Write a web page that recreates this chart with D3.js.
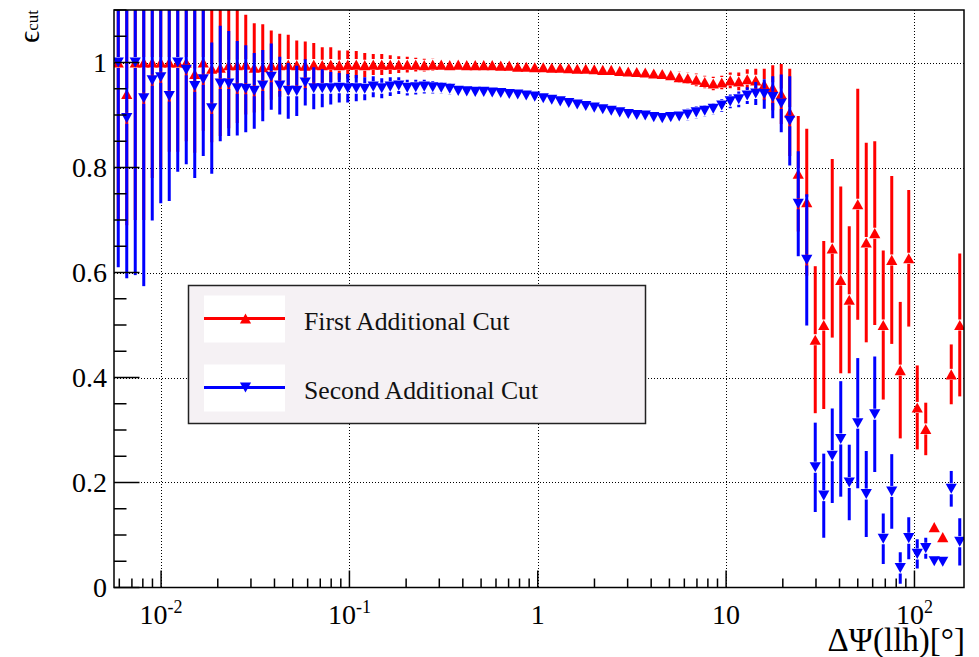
<!DOCTYPE html>
<html>
<head>
<meta charset="utf-8">
<script src="https://cdn.jsdelivr.net/npm/d3@7"></script>
<style>
  html, body { margin: 0; padding: 0; background: #fff; }
  svg { display: block; }
</style>
</head>
<body>
<svg id="chart" width="979" height="657"></svg>
<script>
// Log-uniform binning of the ΔΨ(llh) axis
const N_BINS = 100;
const LOG_MIN = -2.25;
const LOG_MAX = 2.263;

// Cut efficiency per bin and its uncertainty
const firstEff = [
  1.0, 0.94, 1.0, 1.0, 1.0, 1.0, 1.0, 1.0, 1.0, 0.978,
  1.0, 0.988, 0.99, 0.995, 0.995, 0.996, 0.99, 0.991, 0.995, 0.995,
  0.996, 0.995, 0.994, 0.996, 0.995, 0.996, 0.995, 0.996, 0.996, 0.995,
  0.996, 0.996, 0.996, 0.996, 0.996, 0.996, 0.995, 0.996, 0.996, 0.995,
  0.996, 0.995, 0.995, 0.995, 0.995, 0.994, 0.994, 0.992, 0.992, 0.991,
  0.991, 0.990, 0.990, 0.989, 0.988, 0.988, 0.987, 0.986, 0.986, 0.984,
  0.983, 0.982, 0.981, 0.979, 0.978, 0.976, 0.972, 0.970, 0.967, 0.963,
  0.960, 0.962, 0.966, 0.964, 0.968, 0.966, 0.958, 0.952, 0.940, 0.905,
  0.788, 0.734, 0.472, 0.500, 0.646, 0.586, 0.548, 0.730, 0.657, 0.675,
  0.500, 0.624, 0.414, 0.627, 0.343, 0.302, 0.115, 0.096, 0.406, 0.500
];
const firstErr = [
  0.30, 0.25, 0.30, 0.30, 0.22, 0.20, 0.17, 0.17, 0.15, 0.15,
  0.13, 0.14, 0.13, 0.12, 0.11, 0.095, 0.085, 0.082, 0.066, 0.060,
  0.057, 0.047, 0.046, 0.041, 0.034, 0.033, 0.028, 0.027, 0.026, 0.023,
  0.020, 0.020, 0.018, 0.016, 0.015, 0.013, 0.012, 0.011, 0.010, 0.010,
  0.009, 0.009, 0.009, 0.008, 0.008, 0.008, 0.008, 0.008, 0.008, 0.008,
  0.008, 0.008, 0.008, 0.008, 0.008, 0.008, 0.008, 0.008, 0.008, 0.009,
  0.009, 0.009, 0.009, 0.010, 0.010, 0.010, 0.011, 0.011, 0.012, 0.012,
  0.013, 0.013, 0.015, 0.017, 0.019, 0.022, 0.030, 0.043, 0.057, 0.083,
  0.110, 0.140, 0.140, 0.160, 0.170, 0.178, 0.140, 0.220, 0.190, 0.175,
  0.142, 0.160, 0.130, 0.130, 0.080, 0.050, 0.0, 0.0, 0.057, 0.136
];
const secondEff = [
  1.0, 0.894, 1.0, 0.932, 0.966, 0.972, 0.936, 1.0, 0.986, 0.955,
  0.968, 0.913, 0.960, 0.960, 0.951, 0.950, 0.946, 0.956, 0.973, 0.956,
  0.946, 0.946, 0.962, 0.951, 0.951, 0.951, 0.952, 0.951, 0.951, 0.950,
  0.954, 0.951, 0.954, 0.956, 0.952, 0.953, 0.954, 0.953, 0.952, 0.950,
  0.946, 0.945, 0.944, 0.944, 0.943, 0.942, 0.940, 0.939, 0.937, 0.935,
  0.932, 0.929, 0.926, 0.923, 0.920, 0.917, 0.914, 0.911, 0.908, 0.905,
  0.902, 0.900, 0.899, 0.896, 0.894, 0.896, 0.897, 0.901, 0.905, 0.908,
  0.912, 0.918, 0.926, 0.930, 0.937, 0.941, 0.940, 0.934, 0.922, 0.889,
  0.731, 0.624, 0.229, 0.175, 0.251, 0.283, 0.200, 0.313, 0.178, 0.330,
  0.093, 0.183, 0.037, 0.094, 0.064, 0.075, 0.050, 0.049, 0.188, 0.087
];
const secondErr = [
  0.39, 0.305, 0.405, 0.358, 0.267, 0.24, 0.20, 0.208, 0.18, 0.175,
  0.146, 0.125, 0.11, 0.10, 0.09, 0.083, 0.072, 0.068, 0.063, 0.055,
  0.053, 0.048, 0.044, 0.040, 0.036, 0.031, 0.028, 0.027, 0.025, 0.022,
  0.020, 0.019, 0.018, 0.016, 0.015, 0.014, 0.013, 0.012, 0.011, 0.011,
  0.010, 0.010, 0.010, 0.010, 0.009, 0.009, 0.009, 0.009, 0.009, 0.008,
  0.008, 0.008, 0.008, 0.008, 0.008, 0.008, 0.008, 0.008, 0.009, 0.009,
  0.009, 0.009, 0.009, 0.010, 0.010, 0.010, 0.010, 0.011, 0.011, 0.011,
  0.011, 0.012, 0.013, 0.015, 0.016, 0.022, 0.028, 0.040, 0.055, 0.085,
  0.100, 0.125, 0.085, 0.080, 0.090, 0.110, 0.072, 0.124, 0.082, 0.110,
  0.048, 0.071, 0.030, 0.040, 0.028, 0.020, 0.0, 0.0, 0.034, 0.045
];

const yMajorTicks = [0, 0.2, 0.4, 0.6, 0.8, 1];
const yTickLabels = ["0", "0.2", "0.4", "0.6", "0.8", "1"];
const xMajorTicks = [0.01, 0.1, 1, 10, 100];
const xTickLabels = [["10", "-2"], ["10", "-1"], ["1", ""], ["10", ""], ["10", "2"]];

const series = [
  { name: "First Additional Cut",  eff: firstEff,  err: firstErr,  color: "#ff0000", dir: "up" },
  { name: "Second Additional Cut", eff: secondEff, err: secondErr, color: "#0000ff", dir: "down" }
];

const FONT = "'Liberation Serif', 'Times New Roman', serif";
const frame = { left: 114, right: 964, top: 10, bottom: 587.5 };

const x = d3.scaleLog()
  .domain([Math.pow(10, LOG_MIN), Math.pow(10, LOG_MAX)])
  .range([frame.left, frame.right]);
const y = d3.scaleLinear()
  .domain([0, 1.1])
  .range([frame.bottom, frame.top]);

// bin centres (geometric middle of each log bin)
const binW = (LOG_MAX - LOG_MIN) / N_BINS;
const centers = d3.range(N_BINS).map(i => Math.pow(10, LOG_MIN + (i + 0.5) * binW));

const svg = d3.select("#chart");
svg.append("rect").attr("width", 979).attr("height", 657).attr("fill", "#fff");

svg.append("defs").append("clipPath").attr("id", "plotclip")
  .append("rect")
  .attr("x", frame.left).attr("y", frame.top)
  .attr("width", frame.right - frame.left)
  .attr("height", frame.bottom - frame.top);

// dotted grid at the labelled ticks
const grid = svg.append("g").attr("stroke", "#000").attr("stroke-width", 1)
  .attr("stroke-dasharray", "1,2").attr("shape-rendering", "crispEdges");
grid.selectAll("line.gx").data(xMajorTicks).join("line")
  .attr("x1", d => Math.round(x(d)) + 0.5).attr("x2", d => Math.round(x(d)) + 0.5)
  .attr("y1", frame.top).attr("y2", frame.bottom);
grid.selectAll("line.gy").data(yMajorTicks.filter(d => d > 0)).join("line")
  .attr("y1", d => Math.round(y(d)) + 0.5).attr("y2", d => Math.round(y(d)) + 0.5)
  .attr("x1", frame.left).attr("x2", frame.right);

// triangle markers
const R = 5.6;
function tri(cx, cy, dir) {
  const p = d3.path();
  const h = R * 0.9;
  if (dir === "up") {
    p.moveTo(cx - R, cy + h); p.lineTo(cx + R, cy + h); p.lineTo(cx, cy - h);
  } else {
    p.moveTo(cx - R, cy - h); p.lineTo(cx + R, cy - h); p.lineTo(cx, cy + h);
  }
  p.closePath();
  return p.toString();
}

const plot = svg.append("g").attr("clip-path", "url(#plotclip)");
const GAP = 5.5;
series.forEach(s => {
  const g = plot.append("g");
  const pts = centers.map((c, i) => ({ c, v: s.eff[i], e: s.err[i] }));
  // upper and lower error segments, leaving a gap around the marker
  g.selectAll("line.eu").data(pts.filter(d => y(d.v) - y(d.v + d.e) > GAP)).join("line")
    .attr("x1", d => x(d.c)).attr("x2", d => x(d.c))
    .attr("y1", d => y(d.v) - GAP).attr("y2", d => y(d.v + d.e))
    .attr("stroke", s.color).attr("stroke-width", 3);
  g.selectAll("line.ed").data(pts.filter(d => y(d.v - d.e) - y(d.v) > GAP)).join("line")
    .attr("x1", d => x(d.c)).attr("x2", d => x(d.c))
    .attr("y1", d => y(d.v) + GAP).attr("y2", d => y(Math.max(d.v - d.e, 0)))
    .attr("stroke", s.color).attr("stroke-width", 3);
  g.selectAll("path").data(pts).join("path")
    .attr("d", d => tri(x(d.c), y(d.v), s.dir))
    .attr("fill", s.color);
});

// frame
svg.append("rect")
  .attr("x", frame.left).attr("y", frame.top)
  .attr("width", frame.right - frame.left).attr("height", frame.bottom - frame.top)
  .attr("fill", "none").attr("stroke", "#000").attr("stroke-width", 1.5);

// y ticks (inside), major every 0.2, minor every 0.05
const axes = svg.append("g").attr("stroke", "#000").attr("stroke-width", 1.5);
const yMinor = d3.range(0, 1.1001, 0.05);
axes.selectAll("line.yt").data(yMinor).join("line")
  .attr("x1", frame.left)
  .attr("x2", d => frame.left + (Math.abs(d / 0.2 - Math.round(d / 0.2)) < 1e-6 ? 25.5 : 12.5))
  .attr("y1", d => y(d)).attr("y2", d => y(d));

// x ticks (inside), decades long, 2..9 short
const xMinor = [];
for (let e = -3; e <= 2; e++) for (let m = 1; m <= 9; m++) {
  const v = m * Math.pow(10, e);
  if (v >= x.domain()[0] && v <= x.domain()[1]) xMinor.push({ v, major: m === 1 });
}
axes.selectAll("line.xt").data(xMinor).join("line")
  .attr("x1", d => x(d.v)).attr("x2", d => x(d.v))
  .attr("y1", frame.bottom)
  .attr("y2", d => frame.bottom - (d.major ? 17 : 9));

// tick labels
svg.append("g").selectAll("text").data(yMajorTicks).join("text")
  .attr("x", 107).attr("y", d => y(d)).attr("dy", "0.34em")
  .attr("text-anchor", "end")
  .attr("font-family", FONT).attr("font-size", 28).attr("fill", "#000")
  .text((d, i) => yTickLabels[i]);

const xl = svg.append("g").selectAll("text").data(xMajorTicks).join("text")
  .attr("x", d => x(d)).attr("y", 624)
  .attr("text-anchor", "middle")
  .attr("font-family", FONT).attr("font-size", 28).attr("fill", "#000");
xl.append("tspan").text((d, i) => xTickLabels[i][0]);
xl.append("tspan").attr("dy", -11).attr("font-size", 18).text((d, i) => xTickLabels[i][1]);

// axis titles
svg.append("text")
  .attr("x", 965).attr("y", 651).attr("text-anchor", "end")
  .attr("font-family", FONT).attr("font-size", 33).attr("fill", "#000")
  .text("ΔΨ(llh)[°]");

const yt = svg.append("text")
  .attr("transform", "translate(39,10) rotate(-90)")
  .attr("text-anchor", "end")
  .attr("font-family", FONT).attr("fill", "#000");
yt.append("tspan").attr("font-size", 30).text("ϵ");
yt.append("tspan").attr("font-size", 17).attr("dy", -1).text("cut");

// legend
const leg = svg.append("g");
leg.append("rect")
  .attr("x", 188.5).attr("y", 285.5).attr("width", 457).attr("height", 138)
  .attr("fill", "#f5f1f4").attr("stroke", "#222").attr("stroke-width", 1.5);
series.forEach((s, i) => {
  const cy = 318.5 + i * 69;
  leg.append("rect").attr("x", 204).attr("y", cy - 23).attr("width", 81).attr("height", 47).attr("fill", "#fff");
  leg.append("line").attr("x1", 204).attr("x2", 285).attr("y1", cy).attr("y2", cy)
    .attr("stroke", s.color).attr("stroke-width", 3);
  leg.append("path").attr("d", tri(245.5, cy, s.dir)).attr("fill", s.color);
  leg.append("text").attr("x", 304).attr("y", cy + 11)
    .attr("font-family", FONT).attr("font-size", 25.7).attr("fill", "#111")
    .text(s.name);
});
</script>
</body>
</html>
